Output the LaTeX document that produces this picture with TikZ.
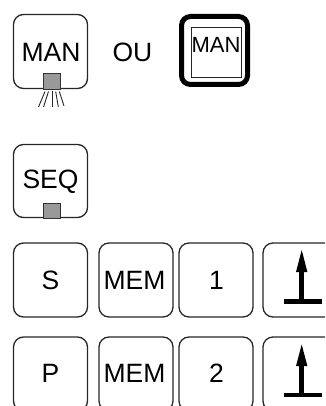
\documentclass[tikz,border=0pt]{standalone}
\usepackage{fontspec}
\setmainfont{Liberation Sans}
\begin{document}
\begin{tikzpicture}[x=1pt,y=-1pt,
  keybox/.style={draw=black!85,line width=1.3pt,rounded corners=10pt,minimum width=74pt,minimum height=74pt,inner sep=0pt,outer sep=0pt},
  keytxt/.style={font=\fontsize{26.5}{26.5}\selectfont,inner sep=0pt,anchor=base},
  smalltxt/.style={font=\fontsize{22}{22}\selectfont,inner sep=0pt,anchor=base},
  lamp/.style={draw=black!80,fill=black!40,line width=0.9pt},
  ray/.style={draw=black!85,line width=0.9pt},
  arrowfill/.style={fill=black}]
\useasboundingbox (0,0) rectangle (325,406);
\clip (0,0) rectangle (325,406);
% MAN key with lamp
\node[keybox] (man) at (50.5,51.5) {};
\node[keytxt] (mantxt) at (51,62) {MAN};
\draw[lamp] (43.3,89) rectangle (60.5,73);
\coordinate (r1a) at (45,91.5);   \coordinate (r1b) at (38.5,107);
\coordinate (r2a) at (48.5,91.5); \coordinate (r2b) at (43.5,107);
\coordinate (r3a) at (52.3,91.5); \coordinate (r3b) at (52.3,107);
\coordinate (r4a) at (55.7,91.5); \coordinate (r4b) at (58.3,107);
\coordinate (r5a) at (59.3,91.5); \coordinate (r5b) at (64,106);
\draw[ray] (r1a) -- (r1b);
\draw[ray] (r2a) -- (r2b);
\draw[ray] (r3a) -- (r3b);
\draw[ray] (r4a) -- (r4b);
\draw[ray] (r5a) -- (r5b);
% OU
\node[keytxt] (ou) at (132.5,62) {OU};
% Thick MAN key
\node[draw=black,line width=5pt,rounded corners=9pt,minimum width=66pt,minimum height=68pt,inner sep=0pt] (manthick) at (214.5,50.5) {};
\node[draw=black!85,line width=0.8pt,minimum width=50pt,minimum height=50pt,inner sep=0pt] (maninner) at (216,52) {};
\node[smalltxt] (maninnertxt) at (216,52.5) {MAN};
% SEQ key
\node[keybox,minimum height=73pt] (seq) at (50.5,181) {};
\node[keytxt] (seqtxt) at (50.5,188.5) {SEQ};
\draw[lamp] (43.3,218) rectangle (60.5,203);
% Row 1
\node[keybox] (s) at (50.5,280) {};
\node[keybox] (mem1) at (136,280) {};
\node[keybox] (one) at (216,280) {};
\node[keybox] (up1) at (300,280) {};
\node[keytxt] (stxt) at (50.5,289) {S};
\node[keytxt] (mem1txt) at (134.5,289) {MEM};
\node[keytxt] (onetxt) at (216.5,289) {1};
\fill[arrowfill] (299.2,271) rectangle (304.2,301);
\fill[arrowfill] (296,272) -- (307.4,272) -- (301.7,250) -- cycle;
\fill[arrowfill] (284,299) rectangle (322,303.5);
% Row 2
\node[keybox] (p) at (50.5,374) {};
\node[keybox] (mem2) at (136,374) {};
\node[keybox] (two) at (216,374) {};
\node[keybox] (up2) at (300,374) {};
\node[keytxt] (ptxt) at (50.5,382.5) {P};
\node[keytxt] (mem2txt) at (134.5,382.5) {MEM};
\node[keytxt] (twotxt) at (216.5,382.5) {2};
\fill[arrowfill] (299.2,365) rectangle (304.2,394);
\fill[arrowfill] (296,366) -- (307.4,366) -- (301.7,344.5) -- cycle;
\fill[arrowfill] (284,392.5) rectangle (322,397);
\end{tikzpicture}
\end{document}
